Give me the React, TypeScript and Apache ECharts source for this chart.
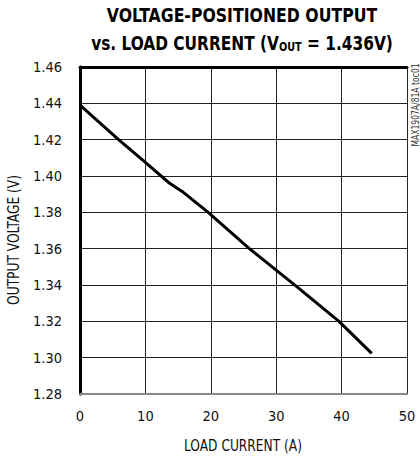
import React, { useEffect, useRef } from "react";
import * as echarts from "echarts";

const currentA = [0, 5.9, 10, 12.4, 13.7, 15.8, 19.6, 25.9, 33, 39.6, 44.6];
const voltageV = [1.439, 1.42, 1.4075, 1.4, 1.396, 1.391, 1.38, 1.36, 1.3395, 1.32, 1.3024];
const xTicks = [0, 10, 20, 30, 40, 50];
const yTicks = [1.28, 1.3, 1.32, 1.34, 1.36, 1.38, 1.4, 1.42, 1.44, 1.46];

const NARROW = "'Liberation Sans Narrow', 'DejaVu Sans Condensed', 'Liberation Sans', sans-serif";

export default function App() {
  const ref = useRef<HTMLDivElement>(null);
  useEffect(() => {
    document.body.style.margin = "0";
    if (!ref.current) return;
    const chart = echarts.init(ref.current, null, { renderer: "svg" });
    const data = currentA.map((c, i) => [c, voltageV[i]]);
    chart.setOption({
      animation: false,
      backgroundColor: "#fff",
      grid: { left: 80, right: 13, top: 67, bottom: 62, show: false },
      xAxis: [
        {
          type: "value",
          min: 0,
          max: 50,
          interval: 10,
          position: "bottom",
          axisLine: { show: true, lineStyle: { color: "#888", width: 2 } },
          axisTick: { show: false },
          splitLine: { show: true, lineStyle: { color: "#222", width: 1 } },
          axisLabel: {
            color: "#111",
            fontFamily: NARROW,
            fontSize: 14.5,
            margin: 14,
            formatter: (v: number) => (xTicks.includes(v) ? String(v) : ""),
          },
        },
        {
          type: "value",
          min: 0,
          max: 50,
          interval: 10,
          position: "top",
          axisLine: { show: true, lineStyle: { color: "#000", width: 3 } },
          axisTick: { show: false },
          axisLabel: { show: false },
          splitLine: { show: false },
        },
      ],
      yAxis: [
        {
          type: "value",
          min: 1.28,
          max: 1.46,
          interval: 0.02,
          position: "left",
          axisLine: { show: true, lineStyle: { color: "#000", width: 3 } },
          axisTick: { show: false },
          splitLine: { show: true, lineStyle: { color: "#222", width: 1 } },
          axisLabel: {
            color: "#111",
            fontFamily: NARROW,
            fontSize: 14.5,
            margin: 18,
            formatter: (v: number) => {
              const t = yTicks.find((y) => Math.abs(y - v) < 1e-6);
              return t !== undefined ? t.toFixed(2) : "";
            },
          },
        },
        {
          type: "value",
          min: 1.28,
          max: 1.46,
          interval: 0.02,
          position: "right",
          axisLine: { show: true, lineStyle: { color: "#000", width: 2.5 } },
          axisTick: { show: false },
          axisLabel: { show: false },
          splitLine: { show: false },
        },
      ],
      series: [
        {
          type: "line",
          data,
          xAxisIndex: 0,
          yAxisIndex: 0,
          symbol: "none",
          lineStyle: { color: "#000", width: 3 },
        },
      ],
      graphic: [
        {
          type: "text",
          x: 242,
          y: 15,
          scaleX: 0.92,
          style: {
            text: "VOLTAGE-POSITIONED OUTPUT",
            fontFamily: NARROW,
            fontWeight: "bold",
            fontSize: 19,
            fill: "#000",
            align: "center",
            verticalAlign: "middle",
          },
        },
        {
          type: "text",
          x: 242,
          y: 43,
          scaleX: 0.9,
          style: {
            text: "{a|vs. LOAD CURRENT (V}{s|OUT}{a| = 1.436V)}",
            align: "center",
            verticalAlign: "middle",
            rich: {
              a: { fontFamily: NARROW, fontWeight: "bold", fontSize: 19, fill: "#000", color: "#000" },
              s: {
                fontFamily: NARROW,
                fontWeight: "bold",
                fontSize: 12,
                color: "#000",
                fill: "#000",
                padding: [8, 0, 0, 0],
              },
            },
          },
        },
        {
          type: "text",
          x: 243,
          y: 445,
          scaleX: 0.85,
          style: {
            text: "LOAD CURRENT (A)",
            fontFamily: NARROW,
            fontSize: 16,
            fill: "#111",
            align: "center",
            verticalAlign: "middle",
          },
        },
        {
          type: "text",
          x: 13,
          y: 240,
          rotation: Math.PI / 2,
          scaleX: 0.85,
          style: {
            text: "OUTPUT VOLTAGE (V)",
            fontFamily: NARROW,
            fontSize: 16,
            fill: "#111",
            align: "center",
            verticalAlign: "middle",
          },
        },
        {
          type: "text",
          x: 415,
          y: 105,
          rotation: Math.PI / 2,
          scaleX: 0.85,
          style: {
            text: "MAX1907A/81A toc01",
            fontFamily: NARROW,
            fontSize: 10,
            fill: "#333",
            align: "center",
            verticalAlign: "middle",
          },
        },
      ],
    });
    return () => chart.dispose();
  }, []);
  return <div ref={ref} style={{ width: 420, height: 456 }} />;
}
